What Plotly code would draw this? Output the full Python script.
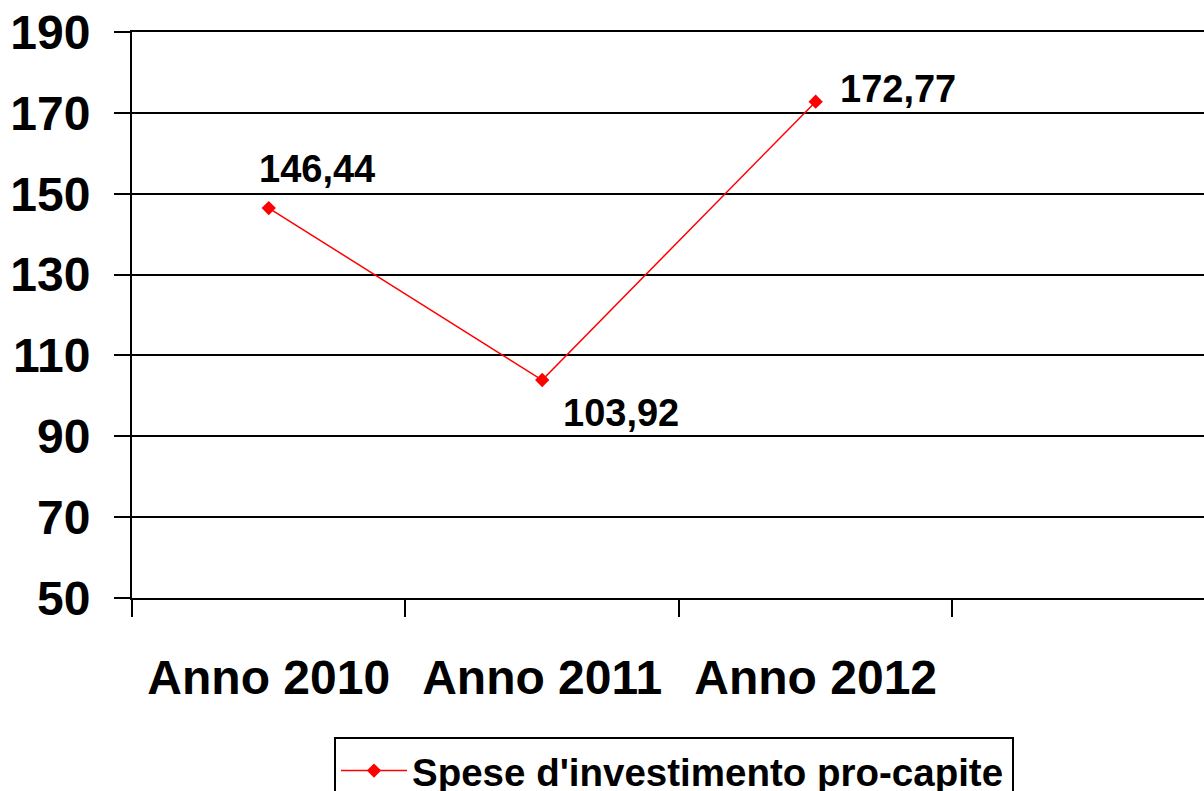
import plotly.graph_objects as go

categories = ["Anno 2010", "Anno 2011", "Anno 2012"]
values = [146.44, 103.92, 172.77]
value_labels = ["146,44", "103,92", "172,77"]
series_name = "Spese d'investimento pro-capite"
y_ticks = [50, 70, 90, 110, 130, 150, 170, 190]

FONT = "Liberation Sans, Arial, sans-serif"

fig = go.Figure()
fig.add_trace(go.Scatter(
    x=categories, y=values, mode="lines+markers", name=series_name,
    line=dict(color="#ff0000", width=1.5),
    marker=dict(symbol="diamond", size=11, color="#ff0000"),
))

# label offsets (px)
offsets = [(-12, 39, "left"), (19, -33, "left"), (22, 13, "left")]
for c, v, t, (dx, dy, xa) in zip(categories, values, value_labels, offsets):
    fig.add_annotation(x=c, y=v, text=t, showarrow=False, xanchor=xa, yanchor="middle",
                       xshift=dx, yshift=dy,
                       font=dict(family=FONT, size=38, color="black", weight="bold"))

fig.update_layout(
    width=1204, height=791,
    margin=dict(l=132, r=0, t=32, b=193, autoexpand=False),
    paper_bgcolor="white", plot_bgcolor="white",
    showlegend=True,
    legend=dict(x=(334 - 132) / 1072, y=-(737 - 598) / 566, xanchor="left", yanchor="top",
                orientation="h", entrywidthmode="pixels", entrywidth=595,
                bordercolor="black", borderwidth=2, bgcolor="white", itemwidth=66,
                font=dict(family=FONT, size=38.5, color="black", weight="bold")),
    xaxis=dict(type="category", range=[-0.5, 3.42], tickson="boundaries",
               ticks="outside", ticklen=17, tickwidth=2, tickcolor="black",
               showgrid=False, showline=True, mirror=True, linecolor="black", linewidth=2,
               ticklabelstandoff=36, automargin=False,
               tickfont=dict(family=FONT, size=48, color="black", weight="bold")),
    yaxis=dict(range=[50, 190], tickvals=y_ticks, ticks="outside", ticklen=16,
               tickwidth=2, tickcolor="black", showgrid=True, gridcolor="black",
               gridwidth=2, showline=True, linecolor="black", linewidth=2,
               zeroline=False, ticklabelstandoff=14, automargin=False,
               tickfont=dict(family=FONT, size=48, color="black", weight="bold")),
)

fig.write_html("out.html", config={"displayModeBar": False},
               post_script="document.body.style.margin='0';document.body.style.overflow='hidden';")
